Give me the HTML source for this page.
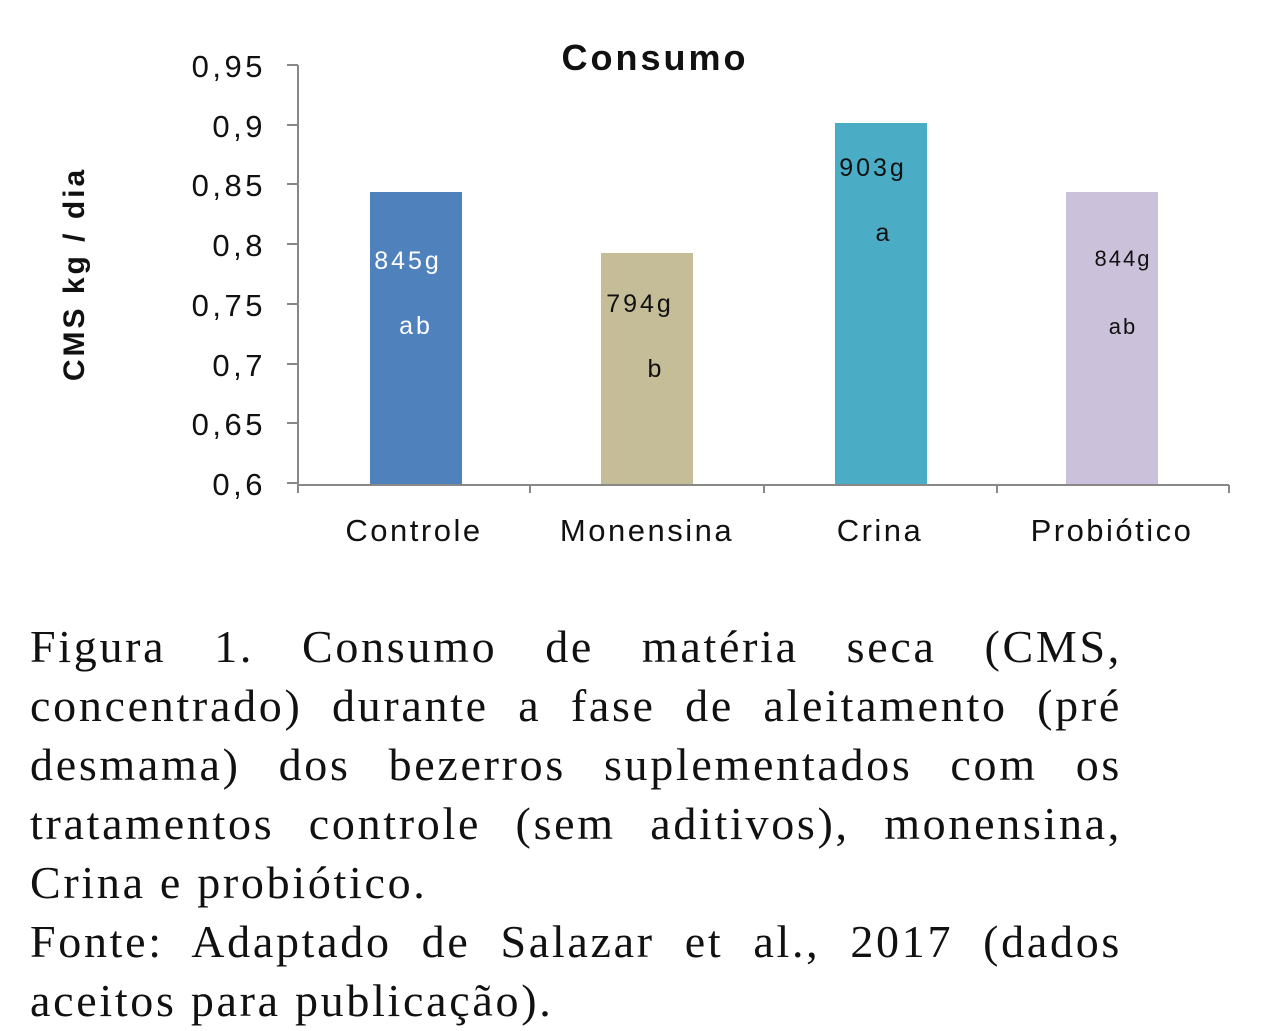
<!DOCTYPE html>
<html><head><meta charset="utf-8"><style>
body{margin:0;width:1280px;height:1031px;background:#fff;overflow:hidden;position:relative}
.l{position:absolute;left:30px;width:1092px;font-family:"Liberation Serif",serif;font-size:46px;letter-spacing:2.7px;line-height:59px;height:59px;white-space:nowrap;color:#111;text-align:justify;text-align-last:justify}
.n{text-align-last:left}
</style></head><body>
<svg width="1280" height="600" style="position:absolute;left:0;top:0" font-family="Liberation Sans, sans-serif">
<text x="655" y="70" font-size="36" font-weight="bold" letter-spacing="3" text-anchor="middle" fill="#111">Consumo</text>
<text transform="translate(84,274) rotate(-90)" font-size="30" font-weight="bold" letter-spacing="3" text-anchor="middle" fill="#111">CMS kg / dia</text>
<g stroke="#888" stroke-width="2" fill="none">
<path d="M298,65V485M287,65H298M287,125H298M287,184H298M287,244H298M287,304H298M287,364H298M287,423H298M287,483H298"/>
<path d="M298,485H1229M298,485V493M530,485V493M764,485V493M997,485V493M1229,485V493"/>
</g>
<g font-size="31" letter-spacing="3.5" text-anchor="end" fill="#111">
<text x="266" y="77">0,95</text><text x="266" y="137">0,9</text><text x="266" y="196">0,85</text><text x="266" y="256">0,8</text><text x="266" y="316">0,75</text><text x="266" y="376">0,7</text><text x="266" y="435">0,65</text><text x="266" y="495">0,6</text>
</g>
<rect x="370" y="192" width="92" height="292" fill="#4f81bd"/>
<rect x="601" y="253" width="92" height="231" fill="#c4bd97"/>
<rect x="835" y="123" width="92" height="361" fill="#4bacc6"/>
<rect x="1066" y="192" width="92" height="292" fill="#ccc1da"/>
<g font-size="25" letter-spacing="3" text-anchor="middle">
<text x="408" y="269" fill="#fff">845g</text><text x="416" y="334" fill="#fff">ab</text>
<text x="640" y="312" fill="#111">794g</text><text x="656" y="377" fill="#111">b</text>
<text x="873" y="176" fill="#111">903g</text><text x="884" y="241" fill="#111">a</text>
<text x="1123" y="266" fill="#111" font-size="22" letter-spacing="2">844g</text><text x="1123" y="334" fill="#111" font-size="22" letter-spacing="2">ab</text>
</g>
<g font-size="31" letter-spacing="2.5" text-anchor="middle" fill="#111">
<text x="414" y="541">Controle</text><text x="647" y="541">Monensina</text><text x="880" y="541">Crina</text><text x="1112" y="541">Probiótico</text>
</g>
</svg>
<div class="l" style="top:617px">Figura 1. Consumo de matéria seca (CMS,</div>
<div class="l" style="top:676px">concentrado) durante a fase de aleitamento (pré</div>
<div class="l" style="top:735px">desmama) dos bezerros suplementados com os</div>
<div class="l" style="top:794px">tratamentos controle (sem aditivos), monensina,</div>
<div class="l n" style="top:853px">Crina e probiótico.</div>
<div class="l" style="top:912px">Fonte: Adaptado de Salazar et al., 2017 (dados</div>
<div class="l n" style="top:971px">aceitos para publicação).</div>
</body></html>
